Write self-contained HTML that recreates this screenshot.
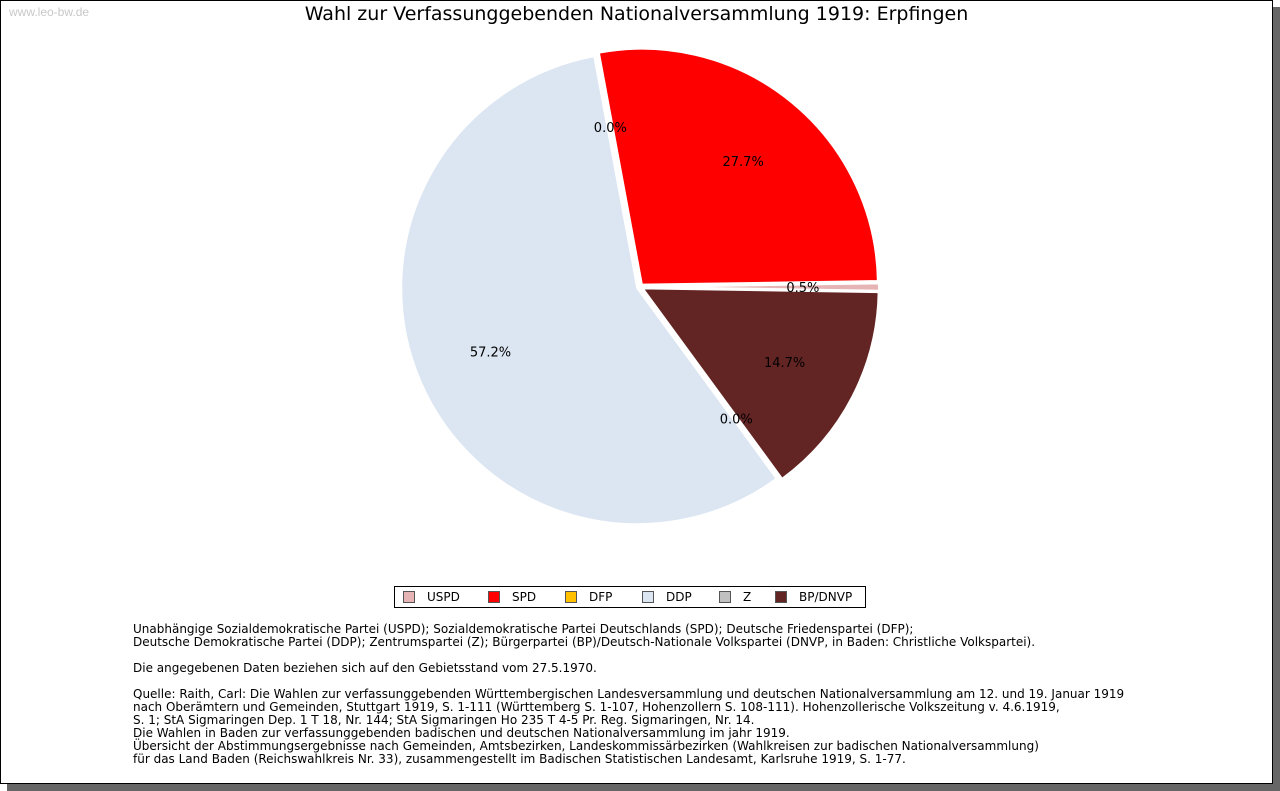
<!DOCTYPE html>
<html><head><meta charset="utf-8">
<style>
body{margin:0;width:1280px;height:791px;background:#fff;position:relative;overflow:hidden;font-family:"DejaVu Sans",Verdana,sans-serif}
#shadow{position:absolute;left:7px;top:7px;width:1273px;height:784px;background:#666}
#frame{position:absolute;left:0;top:0;width:1271px;height:782px;background:#fff;border:1px solid #000}
#wm{position:absolute;left:9px;top:5px;font-size:12px;color:#c8c8c8;font-family:"Liberation Sans",Arial,sans-serif}
#title{position:absolute;left:0;width:1273px;top:3px;text-align:center;font-size:19px;color:#000}
#legend{position:absolute;left:394px;top:586px;width:470px;height:20px;border:1px solid #000;font-size:12px}
.li{position:absolute;top:3px;line-height:14px}
.sw{display:inline-block;width:10px;height:10px;border:1px solid #555;vertical-align:-2px;margin-right:12px}
#notes{position:absolute;left:133px;top:623px;font-size:12px;line-height:13px;color:#000;white-space:pre}
</style></head><body>
<div id="shadow"></div>
<div id="frame"></div>
<div id="wm">www.leo-bw.de</div>
<div id="title">Wahl zur Verfassunggebenden Nationalversammlung 1919: Erpfingen</div>
<svg id="pie" width="1280" height="791" style="position:absolute;left:0;top:0"></svg>
<div id="legend">
<div class="li" style="left:8px"><span class="sw" style="background:#e6b4b4"></span>USPD</div>
<div class="li" style="left:93px"><span class="sw" style="background:#ff0000"></span>SPD</div>
<div class="li" style="left:170px"><span class="sw" style="background:#ffc000"></span>DFP</div>
<div class="li" style="left:247px"><span class="sw" style="background:#dce6f2"></span>DDP</div>
<div class="li" style="left:324px"><span class="sw" style="background:#c0c0c0"></span>Z</div>
<div class="li" style="left:380px"><span class="sw" style="background:#632523"></span>BP/DNVP</div>
</div>
<div id="notes">Unabhängige Sozialdemokratische Partei (USPD); Sozialdemokratische Partei Deutschlands (SPD); Deutsche Friedenspartei (DFP);
Deutsche Demokratische Partei (DDP); Zentrumspartei (Z); Bürgerpartei (BP)/Deutsch-Nationale Volkspartei (DNVP, in Baden: Christliche Volkspartei).

Die angegebenen Daten beziehen sich auf den Gebietsstand vom 27.5.1970.

Quelle: Raith, Carl: Die Wahlen zur verfassunggebenden Württembergischen Landesversammlung und deutschen Nationalversammlung am 12. und 19. Januar 1919
nach Oberämtern und Gemeinden, Stuttgart 1919, S. 1-111 (Württemberg S. 1-107, Hohenzollern S. 108-111). Hohenzollerische Volkszeitung v. 4.6.1919,
S. 1; StA Sigmaringen Dep. 1 T 18, Nr. 144; StA Sigmaringen Ho 235 T 4-5 Pr. Reg. Sigmaringen, Nr. 14.
Die Wahlen in Baden zur verfassunggebenden badischen und deutschen Nationalversammlung im jahr 1919.
Übersicht der Abstimmungsergebnisse nach Gemeinden, Amtsbezirken, Landeskommissärbezirken (Wahlkreisen zur badischen Nationalversammlung)
für das Land Baden (Reichswahlkreis Nr. 33), zusammengestellt im Badischen Statistischen Landesamt, Karlsruhe 1919, S. 1-77.</div>
<script>
const parties = ["SPD","USPD","BP/DNVP","Z","DDP","DFP"];
const values = [27.7,0.5,14.7,0.0,57.2,0.0];
const colors = ["#ff0000","#e6b4b4","#632523","#c0c0c0","#dce6f2","#ffc000"];
const labels = ["27.7%","0.5%","14.7%","0.0%","57.2%","0.0%"];
const svg=document.getElementById('pie');
const NS='http://www.w3.org/2000/svg';
const cx=640,cy=287,r=236,explode=3,startDeg=-100.5;
const total=values.reduce((a,b)=>a+b,0);
let a0=startDeg*Math.PI/180;
values.forEach((v,i)=>{
  const sweep=v/total*2*Math.PI;
  const a1=a0+sweep, mid=a0+sweep/2;
  const ox=cx+explode*Math.cos(mid), oy=cy+explode*Math.sin(mid);
  if(v>0){
    const p=document.createElementNS(NS,'path');
    const x0=ox+r*Math.cos(a0),y0=oy+r*Math.sin(a0),x1=ox+r*Math.cos(a1),y1=oy+r*Math.sin(a1);
    p.setAttribute('d',`M${ox},${oy}L${x0},${y0}A${r},${r} 0 ${sweep>Math.PI?1:0} 1 ${x1},${y1}Z`);
    p.setAttribute('fill',colors[i]);
    p.setAttribute('stroke','#fff');
    p.setAttribute('stroke-width','2');
    
    
    svg.appendChild(p);
  }
  a0=a1;
});
a0=startDeg*Math.PI/180;
values.forEach((v,i)=>{
  const sweep=v/total*2*Math.PI, mid=a0+sweep/2;
  const t=document.createElementNS(NS,'text');
  t.setAttribute('x',cx+0.69*r*Math.cos(mid));
  t.setAttribute('y',cy+0.69*r*Math.sin(mid)+5);
  t.setAttribute('text-anchor','middle');
  t.setAttribute('font-size','13');
  t.setAttribute('font-family','DejaVu Sans, sans-serif');
  t.textContent=labels[i];
  
  
  svg.appendChild(t);
  a0+=sweep;
});
</script>
</body></html>
